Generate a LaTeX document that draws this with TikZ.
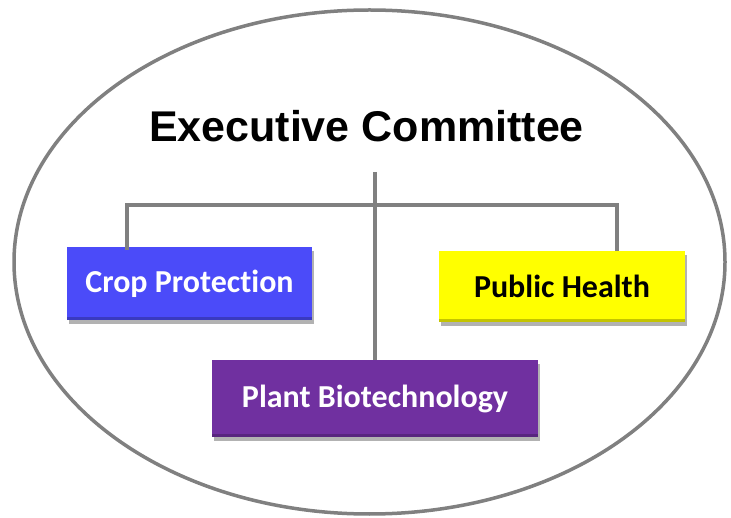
\documentclass[tikz,border=0pt]{standalone}
\usepackage{fontspec}
\setmainfont{Liberation Sans}
\newfontfamily\boxfont[Ligatures={NoCommon}]{Carlito}
\usetikzlibrary{shadows}
\definecolor{cropblue}{HTML}{4B4BF9}
\definecolor{cropdark}{HTML}{3A3AC0}
\definecolor{plantpurple}{HTML}{7030A0}
\definecolor{plantdark}{HTML}{58257F}
\definecolor{phyellow}{HTML}{FFFF00}
\definecolor{phdark}{HTML}{C4C400}
\definecolor{linegray}{HTML}{808080}
\begin{document}
\begin{tikzpicture}[x=1pt,y=1pt,
  conn/.style={draw=linegray,line width=3.5pt},
  unitbox/.style={rectangle,inner sep=0pt,font=\boxfont\bfseries\fontsize{32}{36}\selectfont,
    drop shadow={shadow xshift=2pt,shadow yshift=-4pt,opacity=0.3,fill=black}},
  title/.style={font=\bfseries\fontsize{43}{47}\selectfont,inner sep=0pt}]
\useasboundingbox (0,0) rectangle (731,-518);
\fill[white] (0,0) rectangle (731,-518);
\draw[linegray,line width=3.5pt] (369.5,-262) ellipse [x radius=355.5, y radius=252];
\node[title,anchor=base] (exec) at (366.5,-142) {Executive Committee};
\coordinate (vtop) at (375,-172);
\coordinate (lft) at (127,-205);
\coordinate (rgt) at (617,-205);
\node[unitbox,fill=cropblue,text=white,minimum width=245pt,minimum height=73pt] (crop) at (189.5,-283.5) {Crop Protection};
\node[unitbox,fill=phyellow,text=black,minimum width=246pt,minimum height=71pt] (public) at (562,-286.5) {Public Health};
\node[unitbox,fill=plantpurple,text=white,minimum width=326pt,minimum height=77pt] (plant) at (375,-398.5) {Plant Biotechnology};
\fill[cropdark] (crop.south west) rectangle ([yshift=3pt]crop.south east);
\fill[phdark] (public.south west) rectangle ([yshift=3pt]public.south east);
\fill[plantdark] (plant.south west) rectangle ([yshift=3pt]plant.south east);
\draw[conn] (vtop) -- (plant.north);
\draw[conn] ([yshift=-3pt]crop.north -| lft) -- (lft) -- (rgt) -- (public.north -| rgt);
\end{tikzpicture}
\end{document}
